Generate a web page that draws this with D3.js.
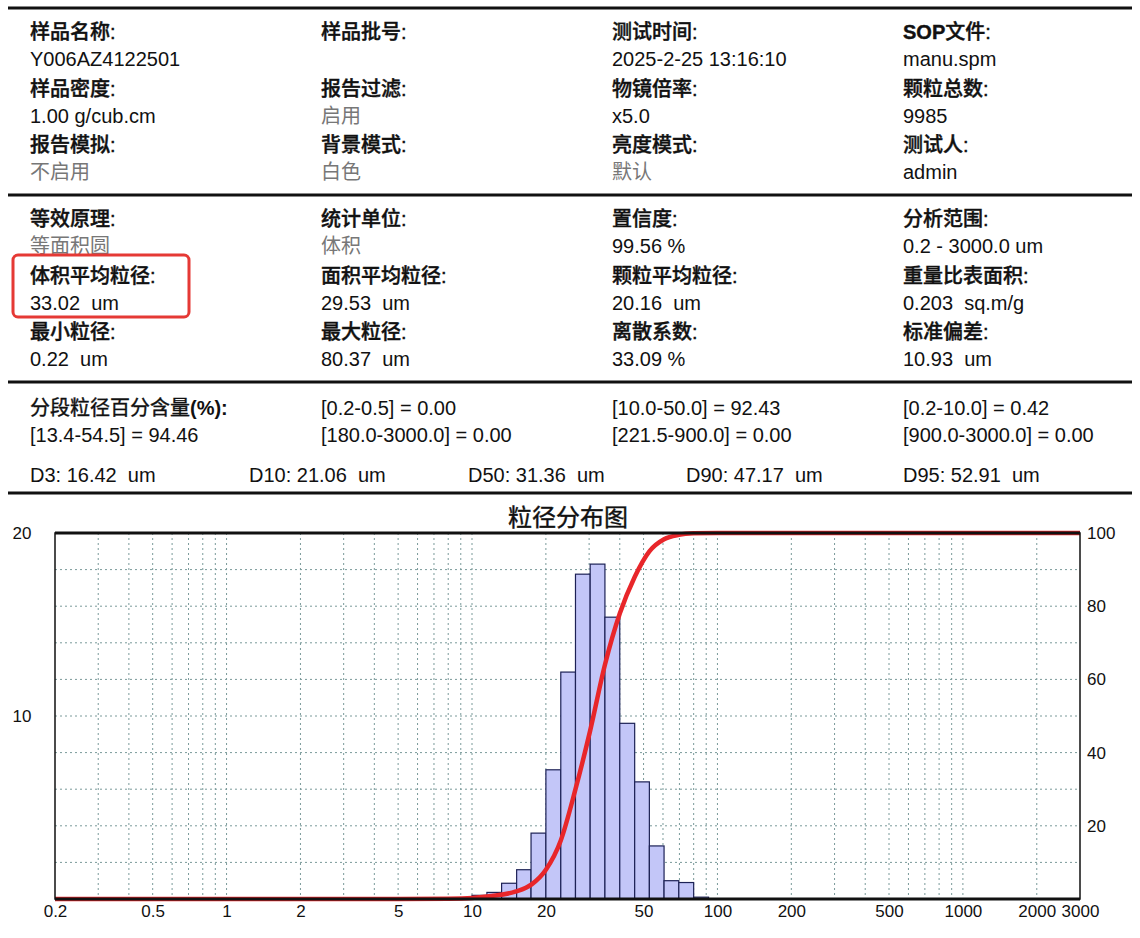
<!DOCTYPE html>
<html><head><meta charset="utf-8">
<script src="https://cdn.jsdelivr.net/npm/d3@7"></script>
<style>body{margin:0;background:#fff}text{font-family:"Liberation Sans","Noto Sans CJK SC",sans-serif;white-space:pre}</style>
</head><body><svg id="c" width="1140" height="938"></svg>
<script>
// header info blocks: [label, value, grey?]
const infoTop = [
  ["样品名称:", "Y006AZ4122501", 0], ["样品批号:", "", 0], ["测试时间:", "2025-2-25 13:16:10", 0], ["SOP文件:", "manu.spm", 0],
  ["样品密度:", "1.00 g/cub.cm", 0], ["报告过滤:", "启用", 1], ["物镜倍率:", "x5.0", 0], ["颗粒总数:", "9985", 0],
  ["报告模拟:", "不启用", 1], ["背景模式:", "白色", 1], ["亮度模式:", "默认", 1], ["测试人:", "admin", 0]
];
const infoMid = [
  ["等效原理:", "等面积圆", 1], ["统计单位:", "体积", 1], ["置信度:", "99.56 %", 0], ["分析范围:", "0.2 - 3000.0 um", 0],
  ["体积平均粒径:", "33.02  um", 0], ["面积平均粒径:", "29.53  um", 0], ["颗粒平均粒径:", "20.16  um", 0], ["重量比表面积:", "0.203  sq.m/g", 0],
  ["最小粒径:", "0.22  um", 0], ["最大粒径:", "80.37  um", 0], ["离散系数:", "33.09 %", 0], ["标准偏差:", "10.93  um", 0]
];
const segRows = [
  ["分段粒径百分含量(%):", "[0.2-0.5] = 0.00", "[10.0-50.0] = 92.43", "[0.2-10.0] = 0.42"],
  ["[13.4-54.5] = 94.46", "[180.0-3000.0] = 0.00", "[221.5-900.0] = 0.00", "[900.0-3000.0] = 0.00"]
];
const dLabels = ["D3: 16.42  um", "D10: 21.06  um", "D50: 31.36  um", "D90: 47.17  um", "D95: 52.91  um"];

// histogram
const binEdges = [10, 11.5, 13.2, 15.2, 17.4, 20, 23, 26.4, 30.3, 34.8, 40, 46, 52.8, 60.6, 69.6, 80, 92];
const binValues = [0.2, 0.36, 0.86, 1.6, 3.6, 7.06, 12.4, 17.75, 18.3, 15.4, 9.6, 6.4, 2.9, 1.0, 0.9, 0.1];
// cumulative curve
const cumSize = [0.2, 5, 8, 10, 12, 15, 17.5, 20, 23, 26.4, 30.3, 34.8, 40, 46, 52.8, 60.6, 69.6, 80, 100, 3000];
const cumPct  = [0, 0, 0.1, 0.3, 0.8, 2, 4, 8, 16, 30, 46, 64, 78, 88, 95, 98.3, 99.5, 99.9, 100, 100];
const xTicks = [0.2, 0.5, 1, 2, 5, 10, 20, 50, 100, 200, 500, 1000, 2000, 3000];
const yLeftTicks = [10, 20];
const yRightTicks = [20, 40, 60, 80, 100];

const svg = d3.select("#c");
const colX = [30, 321, 612, 903];

function hline(y, w) { svg.append("line").attr("x1", 8).attr("x2", 1132).attr("y1", y).attr("y2", y).attr("stroke", "#111").attr("stroke-width", w); }
hline(8, 3); hline(195, 3); hline(382, 3); hline(493, 3);

function block(data, y0) {
  data.forEach((d, i) => {
    const x = colX[i % 4], r = Math.floor(i / 4), y = y0 + r * 56.5;
    const t = svg.append("text").attr("x", x).attr("y", y).attr("font-size", 20).attr("fill", "#111").attr("font-weight", 500)
      .attr("stroke", "#111").attr("stroke-width", 0.4);
    if (d[0].startsWith("SOP")) { t.append("tspan").attr("font-weight", "bold").text("SOP"); t.append("tspan").text("文件:"); }
    else t.text(d[0]);
    svg.append("text").attr("x", x).attr("y", y + 27).attr("font-size", 20).attr("fill", d[2] ? "#777" : "#111").text(d[1]);
  });
}
block(infoTop, 39);
block(infoMid, 226);
svg.append("rect").attr("x", 13).attr("y", 255).attr("width", 176).attr("height", 62).attr("rx", 5)
  .attr("fill", "none").attr("stroke", "#e53935").attr("stroke-width", 3);

segRows.forEach((r, j) => r.forEach((s, i) => {
  const t = svg.append("text").attr("x", colX[i]).attr("y", 415 + j * 27).attr("font-size", 20).attr("fill", "#111");
  if (s.includes("(%)")) { t.append("tspan").attr("stroke", "#111").attr("stroke-width", 0.4).text("分段粒径百分含量"); t.append("tspan").attr("font-weight", "bold").text("(%):"); }
  else t.text(s);
}));
const dX = [30, 249, 468, 686, 903];
dLabels.forEach((s, i) => svg.append("text").attr("x", dX[i]).attr("y", 482).attr("font-size", 20).attr("fill", "#111").text(s));

// chart
const L = 55, R = 1080, T = 533, B = 899;
const x = d3.scaleLog().domain([0.2, 3000]).range([L, R]);
const yL = d3.scaleLinear().domain([0, 20]).range([B, T]);
const yR = d3.scaleLinear().domain([0, 100]).range([B, T]);

svg.append("text").attr("x", 568).attr("y", 526).attr("text-anchor", "middle").attr("font-size", 24)
  .attr("fill", "#111").attr("stroke", "#111").attr("stroke-width", 0.4).text("粒径分布图");

const g = svg.append("g");
const minor = [];
[0.1, 1, 10, 100, 1000].forEach(d => { for (let k = 1; k < 10; k++) { const v = d * k; if (v > 0.2 && v < 3000) minor.push(v); } });
g.selectAll(".vg").data(minor).join("line").attr("x1", d => x(d)).attr("x2", d => x(d)).attr("y1", T).attr("y2", B)
  .attr("stroke", "#7a9a9a").attr("stroke-dasharray", "2,3").attr("stroke-width", 1);
g.selectAll(".hg").data(d3.range(2, 20, 2)).join("line").attr("x1", L).attr("x2", R).attr("y1", d => yL(d)).attr("y2", d => yL(d))
  .attr("stroke", "#7a9a9a").attr("stroke-dasharray", "2,3").attr("stroke-width", 1);

g.selectAll(".bar").data(binValues).join("rect")
  .attr("x", (d, i) => x(binEdges[i])).attr("width", (d, i) => x(binEdges[i + 1]) - x(binEdges[i]))
  .attr("y", d => yL(d)).attr("height", d => B - yL(d))
  .attr("fill", "#c3c6f8").attr("stroke", "#1c2155").attr("stroke-width", 1.2);

const line = d3.line().x(d => x(d[0])).y(d => yR(d[1])).curve(d3.curveMonotoneX);
g.append("path").datum(cumSize.map((s, i) => [s, cumPct[i]])).attr("d", line)
  .attr("fill", "none").attr("stroke", "#e8262a").attr("stroke-width", 4.5);

svg.append("rect").attr("x", L).attr("y", T).attr("width", R - L).attr("height", B - T).attr("fill", "none").attr("stroke", "#111").attr("stroke-width", 1.5);
svg.append("line").attr("x1", L).attr("x2", R).attr("y1", T).attr("y2", T).attr("stroke", "#111").attr("stroke-width", 3);
svg.append("line").attr("x1", L).attr("x2", R).attr("y1", B).attr("y2", B).attr("stroke", "#111").attr("stroke-width", 3);

const axB = svg.append("g").attr("transform", `translate(0,${B})`)
  .call(d3.axisBottom(x).tickValues(xTicks).tickFormat(d => d).tickSize(0).tickPadding(6));
axB.select(".domain").remove();
axB.selectAll("text").attr("font-size", 17).attr("fill", "#111").attr("font-family", "Liberation Sans");
svg.selectAll(".yl").data(yLeftTicks).join("text").attr("x", 22).attr("y", d => yL(d) + 6).attr("text-anchor", "middle")
  .attr("font-size", 17).attr("fill", "#111").text(d => d);
svg.selectAll(".yr").data(yRightTicks).join("text").attr("x", 1087).attr("y", d => yR(d) + 6)
  .attr("font-size", 17).attr("fill", "#111").text(d => d);
</script></body></html>
